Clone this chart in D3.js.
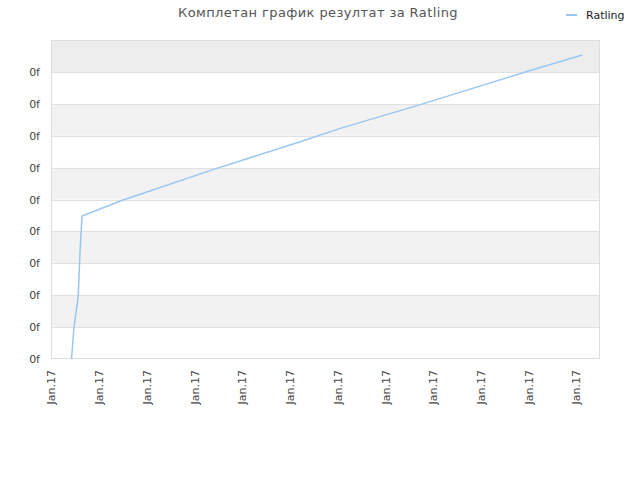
<!DOCTYPE html>
<html>
<head>
<meta charset="utf-8">
<script src="https://cdn.jsdelivr.net/npm/d3@7"></script>
<style>
  body { margin: 0; background: #fff; }
  svg text { font-family: "DejaVu Sans", Verdana, sans-serif; }
</style>
</head>
<body>
<div id="okvir"></div>
<script>
// podaci ocitani sa slike (x u jedinicama tickova, y u jedinicama mreze)
const xTicks = [0, 1, 2, 3, 4, 5, 6, 7, 8, 9, 10, 11]
const xTickLabel = "Jan.17"
const yTicks = [0, 1, 2, 3, 4, 5, 6, 7, 8, 9]
const yTickLabel = "0f"
const serijaIme = "Ratling"
const serijaX = [0.43, 0.48, 0.57, 0.61, 0.65, 1.48, 3.44, 5.22, 6.06, 7.77, 9.97, 11.13]
const serijaY = [0, 0.97, 1.97, 3.42, 4.48, 4.97, 5.96, 6.81, 7.23, 7.99, 9.01, 9.53]

const dimenzije = {
  sirina: 640,
  visina: 480,
  margine: { top: 40, right: 40, bottom: 121, left: 51 },
}
dimenzije.grSirina = dimenzije.sirina - dimenzije.margine.left - dimenzije.margine.right
dimenzije.grVisina = dimenzije.visina - dimenzije.margine.top - dimenzije.margine.bottom

const boja = "#99c7f3"

const okvir = d3.select("#okvir")
  .append("svg")
  .attr("width", dimenzije.sirina)
  .attr("height", dimenzije.visina)

const granice = okvir.append("g")
  .attr("transform", `translate(${dimenzije.margine.left},${dimenzije.margine.top})`)

const xSkala = d3.scaleLinear()
  .domain([0, 11.5])
  .range([0, dimenzije.grSirina])

const ySkala = d3.scaleLinear()
  .domain([0, 10])
  .range([dimenzije.grVisina, 0])

// trake izmedju linija mreze
const trake = d3.range(0, 10)
granice.selectAll(".traka")
  .data(trake)
  .enter().append("rect")
    .attr("class", "traka")
    .attr("x", 0)
    .attr("width", dimenzije.grSirina)
    .attr("y", d => ySkala(d + 1))
    .attr("height", d => ySkala(d) - ySkala(d + 1))
    .attr("fill", d => d == 9 ? "#ededed" : (d % 2 == 0 ? "#ffffff" : "#f2f2f2"))

// linije mreze
granice.selectAll(".mreza")
  .data(yTicks.slice(1))
  .enter().append("line")
    .attr("class", "mreza")
    .attr("x1", 0)
    .attr("x2", dimenzije.grSirina)
    .attr("y1", d => Math.round(ySkala(d)) + 0.5)
    .attr("y2", d => Math.round(ySkala(d)) + 0.5)
    .attr("stroke", "#e0e0e0")

granice.append("rect")
  .attr("x", 0.5)
  .attr("y", 0.5)
  .attr("width", dimenzije.grSirina - 1)
  .attr("height", dimenzije.grVisina - 1)
  .attr("fill", "none")
  .attr("stroke", "#dddddd")

// y osa
const yOsa = d3.axisLeft(ySkala)
  .tickValues(yTicks)
  .tickSize(0)
  .tickPadding(11)
  .tickFormat(() => yTickLabel)

const yG = granice.append("g").call(yOsa)
yG.select(".domain").remove()
yG.selectAll("text")
  .attr("fill", "#444")
  .style("font-size", "11px")

// x osa
const xOsa = d3.axisBottom(xSkala)
  .tickValues(xTicks)
  .tickSize(0)
  .tickFormat(() => xTickLabel)

const xG = granice.append("g")
  .attr("transform", `translate(0,${dimenzije.grVisina})`)
  .call(xOsa)
xG.select(".domain").remove()
xG.selectAll("text")
  .attr("fill", "#444")
  .style("font-size", "11px")
  .attr("text-anchor", "end")
  .attr("dy", "0.35em")
  .attr("transform", "translate(0,11) rotate(-90)")
  .attr("y", 0)
  .attr("x", 0)

// linija serije
const tacke = serijaX.map((x, i) => [x, serijaY[i]])
const linijaGenerator = d3.line()
  .x(d => xSkala(d[0]))
  .y(d => ySkala(d[1]))

granice.append("path")
  .datum(tacke)
  .attr("fill", "none")
  .attr("stroke", boja)
  .attr("stroke-width", 1.5)
  .attr("d", linijaGenerator)

// naslov
okvir.append("text")
  .attr("x", 318)
  .attr("y", 17)
  .attr("text-anchor", "middle")
  .attr("fill", "#555")
  .style("font-size", "13px")
  .style("letter-spacing", "0.4px")
  .text("Комплетан график резултат за Ratling")

// legenda
const legenda = okvir.append("g")
  .attr("transform", "translate(566,15)")
legenda.append("line")
  .attr("x1", 0)
  .attr("x2", 11)
  .attr("stroke", boja)
  .attr("stroke-width", 2)
legenda.append("text")
  .attr("x", 20)
  .attr("dy", "0.35em")
  .attr("fill", "#222")
  .style("font-size", "11px")
  .text(serijaIme)
</script>
</body>
</html>
